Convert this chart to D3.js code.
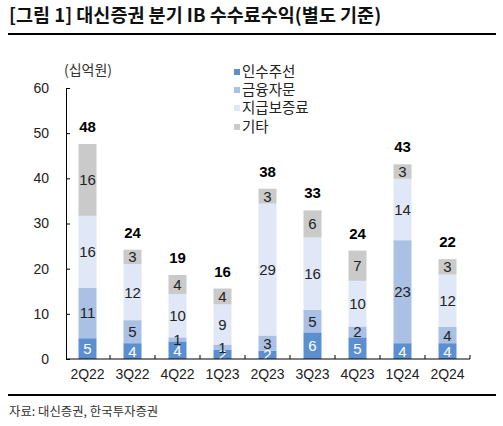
<!DOCTYPE html>
<html><head><meta charset="utf-8">
<script src="https://cdn.jsdelivr.net/npm/d3@7"></script>
<style>body{margin:0;background:#fff;} svg{display:block;}</style>
</head><body>
<svg id="c" width="503" height="426"></svg>
<script>
const categories = ["2Q22","3Q22","4Q22","1Q23","2Q23","3Q23","4Q23","1Q24","2Q24"];
const seriesNames = ["인수주선","금융자문","지급보증료","기타"];
const underwriting = [4.6,3.5,3.9,2.1,1.8,5.9,4.8,3.5,3.5];
const advisory     = [11.2,5.1,0.9,1.1,3.4,5.0,2.4,22.8,3.6];
const guarantee    = [15.9,12.4,9.6,8.9,29.2,16.0,10.1,13.6,11.6];
const other        = [15.9,3.2,4.2,3.5,3.3,6.0,6.7,3.2,3.4];
const yTicks = [0,10,20,30,40,50,60];
const colors = ["#5b8fd0","#aac0e4","#e0e7f6","#cacaca"];
const labelColors = ["#ffffff","#222222","#222222","#222222"];

const svg = d3.select("#c");
const KR = "'Noto Sans CJK KR','Noto Sans',sans-serif";
const NUM = "'Liberation Sans',Arial,sans-serif";

const x = d3.scaleBand().domain(categories).range([65,470]).paddingInner(0.6).paddingOuter(0.3);
const y = d3.scaleLinear().domain([0,60]).range([359,88]);

// title
svg.append("text").attr("x",9).attr("y",22).attr("font-family",KR).attr("font-weight","bold")
  .attr("font-size",18.5).attr("fill","#111").text("[그림 1] 대신증권 분기 IB 수수료수익(별도 기준)");
svg.append("line").attr("x1",8).attr("x2",496).attr("y1",34).attr("y2",34).attr("stroke","#000").attr("stroke-width",2);
svg.append("line").attr("x1",8).attr("x2",496).attr("y1",395).attr("y2",395).attr("stroke","#000").attr("stroke-width",2);
svg.append("text").attr("x",9).attr("y",416).attr("font-family",KR).attr("font-size",12.4)
  .attr("fill","#333").text("자료: 대신증권, 한국투자증권");

// unit
svg.append("text").attr("x",64).attr("y",75).attr("font-family",KR).attr("font-size",14)
  .attr("fill","#333").text("(십억원)");

// data stacking
const rows = categories.map((c,i)=>({cat:c, s0:underwriting[i], s1:advisory[i], s2:guarantee[i], s3:other[i]}));
const stack = d3.stack().keys(["s0","s1","s2","s3"])(rows);

stack.forEach((layer,li)=>{
  const g = svg.append("g");
  g.selectAll("rect").data(layer).join("rect")
    .attr("x",d=>x(d.data.cat)).attr("width",x.bandwidth())
    .attr("y",d=>y(d[1])).attr("height",d=>y(d[0])-y(d[1]))
    .attr("fill",colors[li]);
});
stack.forEach((layer,li)=>{
  svg.append("g").selectAll("text").data(layer).join("text")
    .attr("x",d=>x(d.data.cat)+x.bandwidth()/2)
    .attr("y",d=>(y(d[0])+y(d[1]))/2+5.5)
    .attr("text-anchor","middle").attr("font-family",NUM).attr("font-size",15)
    .attr("fill",labelColors[li]).text(d=>Math.round(d[1]-d[0]));
});
// cover overflow below baseline
svg.append("rect").attr("x",66).attr("y",360).attr("width",410).attr("height",8).attr("fill","#fff");

// totals
svg.append("g").selectAll("text").data(rows).join("text")
  .attr("x",d=>x(d.cat)+x.bandwidth()/2)
  .attr("y",d=>y(d.s0+d.s1+d.s2+d.s3)-12)
  .attr("text-anchor","middle").attr("font-family",NUM).attr("font-weight","bold").attr("font-size",15)
  .attr("fill","#000").text(d=>Math.round(d.s0+d.s1+d.s2+d.s3));

// y axis
const yAxis = svg.append("g").attr("transform","translate(66,0)")
  .call(d3.axisLeft(y).tickValues(yTicks).tickSizeInner(-4).tickSizeOuter(0).tickPadding(17));
yAxis.select(".domain").attr("stroke","#000");
yAxis.selectAll(".tick line").attr("stroke","#000");
yAxis.selectAll("text").attr("font-family",NUM).attr("font-size",14).attr("fill","#222");

// x axis
const xAxis = svg.append("g").attr("transform","translate(0,359)")
  .call(d3.axisBottom(x).tickSize(0).tickPadding(10));
xAxis.select(".domain").attr("stroke","#000").attr("d","M66,0H470");
xAxis.selectAll("text").attr("font-family",NUM).attr("font-size",14).attr("fill","#222");
const boundaries = categories.map(c=>x(c)+x.bandwidth()/2+x.step()/2);
xAxis.selectAll(".bnd").data(boundaries).join("line").attr("class","bnd")
  .attr("x1",d=>d).attr("x2",d=>d).attr("y1",0).attr("y2",-4).attr("stroke","#000");

// legend
const lg = svg.append("g");
const ly = [72,90,108,127];
seriesNames.forEach((n,i)=>{
  lg.append("rect").attr("x",234).attr("y",ly[i]-3).attr("width",6).attr("height",6).attr("fill",colors[i]);
  lg.append("text").attr("x",242).attr("y",ly[i]+5).attr("font-family",KR).attr("font-size",14.5)
    .attr("fill","#222").text(n);
});
</script>
</body></html>
